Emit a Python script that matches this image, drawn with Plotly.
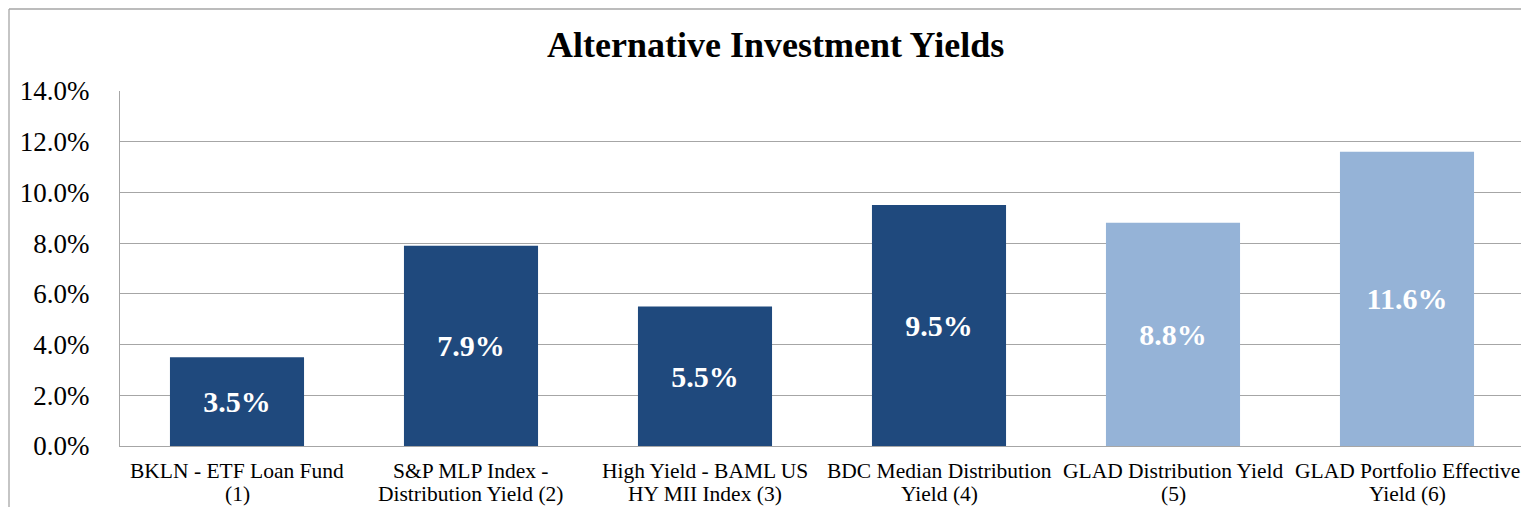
import plotly.graph_objects as go

categories = [
    "BKLN - ETF Loan Fund<br>(1)",
    "S&P MLP Index -<br>Distribution Yield (2)",
    "High Yield - BAML US<br>HY MII Index (3)",
    "BDC Median Distribution<br>Yield (4)",
    "GLAD Distribution Yield<br>(5)",
    "GLAD Portfolio Effective<br>Yield (6)",
]
values = [3.5, 7.9, 5.5, 9.5, 8.8, 11.6]
bar_colors = ["#1F497D", "#1F497D", "#1F497D", "#1F497D", "#95B3D7", "#95B3D7"]
labels = [f"{v:.1f}%" for v in values]

OFF = 8  # page body margin
W, H = 1529 - OFF, 515 - 2 * OFF  # fit inside the window without scrollbars
# plot area in page pixels: x 120..1524, y 91..446
L = 120 - OFF
R = W - (1524 - OFF)
T = 91 - OFF
B = H - (446 - OFF)
pw, ph = W - L - R, H - T - B

def px(x):
    return (x - OFF - L) / pw

def py(y):
    return (H - B - (y - OFF)) / ph

fig = go.Figure(go.Bar(
    x=categories, y=values,
    marker=dict(color=bar_colors, line=dict(width=0)),
    text=labels, textposition="inside", insidetextanchor="middle",
    textfont=dict(family="Liberation Serif", size=30, color="white", weight="bold"),
    textangle=0, width=0.573,
    hoverinfo="skip",
))

fig.update_layout(
    width=W, height=H,
    margin=dict(l=L, r=R, t=T, b=B),
    paper_bgcolor="white", plot_bgcolor="white",
    showlegend=False,
    font=dict(family="Liberation Serif", color="black"),
)
fig.update_yaxes(
    range=[0, 14], dtick=2, tickformat=".1f", ticksuffix="%",
    showgrid=True, gridcolor="#A6A6A6", gridwidth=1.3,
    showline=True, linecolor="#A6A6A6", linewidth=1.3,
    ticks="", tickfont=dict(size=27, family="Liberation Serif", color="black"),
    ticklabelstandoff=24, zeroline=False, fixedrange=True,
)
fig.update_xaxes(
    showline=True, linecolor="#A6A6A6", linewidth=1.3,
    ticks="", showticklabels=False, fixedrange=True,
)
# category labels, two tightly spaced lines each
for cat in categories:
    lines = cat.split("<br>")
    for i, ln in enumerate(lines):
        fig.add_annotation(
            text=ln, x=cat, xref="x", yref="paper", y=py(471 + 23 * i),
            xanchor="center", yanchor="middle", showarrow=False,
            font=dict(family="Liberation Serif", size=21.5, color="black"),
        )
# outer chart-area border (top and left edges visible)
fig.add_shape(type="line", xref="paper", yref="paper",
              x0=px(9), x1=px(OFF + W), y0=py(9), y1=py(9),
              line=dict(color="#A6A6A6", width=1.3), layer="below")
fig.add_shape(type="line", xref="paper", yref="paper",
              x0=px(9), x1=px(9), y0=py(9), y1=py(OFF + H),
              line=dict(color="#A6A6A6", width=1.3), layer="below")
fig.add_annotation(
    text="<b>Alternative Investment Yields</b>", xref="paper", yref="paper",
    x=px(775), y=py(45), xanchor="center", yanchor="middle", showarrow=False,
    font=dict(family="Liberation Serif", size=36, color="black"),
)

fig.write_html("out.html", config={"displayModeBar": False})
